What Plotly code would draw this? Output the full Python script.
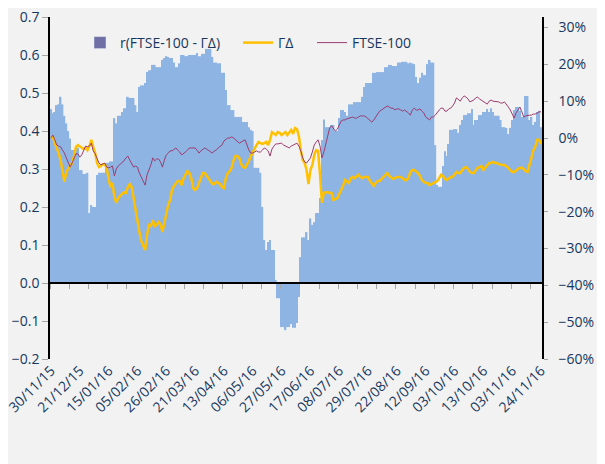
import plotly.graph_objects as go

# x-axis labels, one every 15 trading days
dates = ["30/11/15", "21/12/15", "15/01/16", "05/02/16", "26/02/16", "21/03/16",
         "13/04/16", "06/05/16", "27/05/16", "17/06/16", "08/07/16", "29/07/16",
         "22/08/16", "12/09/16", "03/10/16", "13/10/16", "03/11/16", "24/11/16"]

# rolling correlation r(FTSE-100 - GammaDelta), left axis
corr = [0.458, 0.447, 0.45, 0.468, 0.47, 0.49, 0.47, 0.44, 0.42, 0.40,
        0.38, 0.35, 0.35, 0.356, 0.356, 0.297, 0.297, 0.287, 0.287, 0.29,
        0.184, 0.205, 0.2, 0.2, 0.284, 0.29, 0.29, 0.29, 0.29, 0.316,
        0.316, 0.32, 0.32, 0.434, 0.42, 0.44, 0.44, 0.45, 0.46, 0.46,
        0.49, 0.487, 0.487, 0.487, 0.468, 0.45, 0.516, 0.52, 0.52, 0.526,
        0.555, 0.56, 0.56, 0.574, 0.574, 0.568, 0.568, 0.568, 0.587, 0.592,
        0.597, 0.595, 0.592, 0.592, 0.58, 0.568, 0.568, 0.578, 0.6, 0.6,
        0.597, 0.597, 0.6, 0.6, 0.6, 0.6, 0.605, 0.597, 0.597, 0.603,
        0.603, 0.616, 0.616, 0.616, 0.595, 0.58, 0.58, 0.578, 0.578, 0.553,
        0.553, 0.508, 0.468, 0.468, 0.455, 0.455, 0.437, 0.437, 0.437, 0.437,
        0.424, 0.424, 0.424, 0.41, 0.403, 0.40, 0.303, 0.303, 0.303, 0.29,
        0.2, 0.113, 0.087, 0.108, 0.113, 0.087, 0.087, 0.008, -0.04, -0.04,
        -0.116, -0.116, -0.124, -0.116, -0.116, -0.108, -0.118, -0.118, -0.105, -0.037,
        0.068, 0.12, 0.12, 0.134, 0.113, 0.17, 0.153, 0.16, 0.184, 0.184,
        0.224, 0.376, 0.43, 0.41, 0.41, 0.41, 0.416, 0.416, 0.40, 0.40,
        0.434, 0.455, 0.455, 0.45, 0.44, 0.47, 0.47, 0.47, 0.476, 0.476,
        0.476, 0.476, 0.49, 0.516, 0.526, 0.526, 0.526, 0.526, 0.553, 0.553,
        0.555, 0.555, 0.555, 0.555, 0.568, 0.568, 0.574, 0.574, 0.571, 0.571,
        0.571, 0.58, 0.58, 0.582, 0.582, 0.582, 0.578, 0.58, 0.578, 0.576,
        0.542, 0.526, 0.54, 0.553, 0.547, 0.547, 0.576, 0.587, 0.58, 0.58,
        0.363, 0.258, 0.253, 0.253, 0.308, 0.347, 0.334, 0.366, 0.403, 0.403,
        0.405, 0.405, 0.395, 0.416, 0.429, 0.442, 0.442, 0.447, 0.447, 0.458,
        0.416, 0.429, 0.429, 0.442, 0.442, 0.45, 0.45, 0.458, 0.45, 0.46,
        0.45, 0.44, 0.44, 0.44, 0.429, 0.41, 0.41, 0.408, 0.392, 0.408,
        0.429, 0.455, 0.463, 0.463, 0.453, 0.437, 0.437, 0.492, 0.492, 0.429,
        0.437, 0.416, 0.424, 0.45, 0.453, 0.41]

# GammaDelta, % (right axis)
gamma_delta = [0.0, 0.3, -1.4, -2.7, -4.1, -6.0, -9.2, -11.9, -9.2, -8.4,
               -7.9, -6.8, -4.9, -2.4, -1.9, -2.2, -2.7, -3.0, -2.7, -3.3,
               -2.2, -0.5, -2.4, -4.1, -6.8, -7.9, -7.6, -7.1, -7.1, -8.1,
               -11.1, -13.3, -12.2, -16.0, -17.6, -16.3, -15.7, -15.2, -14.7, -14.9,
               -13.3, -12.5, -13.3, -16.3, -19.8, -22.3, -25.5, -28.0, -29.3, -30.4,
               -26.3, -23.6, -23.9, -22.3, -23.9, -23.6, -22.8, -23.4, -25.5, -22.8,
               -20.1, -18.2, -16.8, -14.1, -13.0, -12.2, -11.7, -11.7, -12.8, -10.9,
               -9.8, -9.0, -9.5, -10.9, -13.6, -14.1, -13.6, -12.2, -10.9, -9.5,
               -9.5, -10.3, -10.9, -11.7, -12.5, -12.5, -11.9, -12.2, -12.5, -13.3,
               -13.6, -10.9, -9.5, -9.0, -8.1, -6.0, -4.9, -4.9, -5.4, -7.1,
               -7.9, -8.1, -7.3, -6.2, -4.9, -3.8, -2.7, -1.9, -1.1, -1.4,
               -1.6, -1.4, -1.1, -1.9, -0.5, 1.6, 1.1, 0.8, 1.6, 1.4,
               0.8, 1.1, 1.6, 0.8, 1.4, 2.2, 1.1, 2.7, 2.4, 0.5,
               -3.3, -6.0, -6.8, -8.7, -12.5, -8.7, -7.3, -4.6, -3.3, -3.5,
               -10.0, -17.6, -14.9, -14.7, -14.7, -14.9, -14.9, -16.8, -16.6, -16.3,
               -15.2, -14.1, -13.0, -11.4, -11.9, -12.2, -10.9, -10.6, -10.9, -10.3,
               -10.0, -10.6, -10.9, -10.6, -10.6, -10.6, -11.7, -12.5, -13.0, -12.2,
               -11.7, -11.7, -11.1, -10.6, -10.0, -9.5, -10.3, -10.6, -11.1, -10.9,
               -10.6, -10.6, -10.6, -10.9, -11.4, -11.4, -10.9, -9.2, -8.7, -8.7,
               -9.2, -9.5, -10.3, -11.4, -11.9, -12.2, -12.2, -12.8, -12.5, -12.2,
               -11.9, -11.7, -10.9, -10.0, -10.3, -11.1, -11.4, -11.1, -10.6, -10.6,
               -10.0, -9.2, -9.5, -9.5, -8.7, -8.1, -7.9, -8.4, -9.2, -9.5,
               -9.5, -8.7, -8.1, -7.9, -7.6, -8.7, -8.1, -7.3, -6.8, -6.8,
               -6.5, -6.8, -6.8, -7.1, -7.3, -7.3, -7.3, -7.6, -8.1, -8.7,
               -9.2, -9.2, -8.7, -8.4, -8.1, -8.1, -8.4, -9.0, -9.2, -7.6,
               -5.4, -3.3, -2.4, -0.5, -0.5, -1.6]

# FTSE-100 change since 30/11/15, % (right axis)
ftse = [0.0, 0.8, -0.5, -1.9, -2.2, -2.4, -3.3, -4.1, -5.4, -6.8,
        -7.9, -6.8, -5.4, -4.3, -4.3, -5.2, -4.6, -3.3, -2.2, -2.4,
        -2.2, -1.4, -3.5, -4.3, -5.4, -6.8, -7.3, -7.1, -6.8, -7.9,
        -8.1, -7.9, -7.6, -10.3, -8.4, -7.6, -7.1, -6.8, -6.2, -5.4,
        -4.9, -6.0, -7.1, -7.9, -7.6, -7.9, -9.5, -10.6, -11.4, -12.8,
        -10.0, -8.7, -7.3, -5.4, -6.2, -5.7, -5.7, -6.5, -7.9, -6.0,
        -4.6, -4.1, -3.5, -3.5, -3.0, -2.7, -3.3, -3.8, -4.6, -4.3,
        -3.8, -3.3, -2.7, -2.7, -2.7, -2.7, -3.3, -4.1, -3.5, -3.0,
        -2.7, -3.0, -3.3, -3.8, -4.1, -3.5, -3.3, -2.7, -2.4, -1.9,
        -0.8, -0.3, 0.0, 0.0, 0.3, 0.0, -0.5, -1.1, -1.4, -1.1,
        -0.8, -0.5, -1.9, -3.3, -4.1, -4.1, -3.8, -3.5, -3.8, -3.8,
        -3.3, -2.7, -3.0, -3.5, -4.9, -3.0, -2.2, -1.6, -1.6, -1.4,
        -1.4, -1.9, -2.2, -2.4, -2.7, -2.2, -1.9, -1.6, -1.4, -2.2,
        -3.5, -5.4, -6.5, -6.8, -6.2, -5.4, -3.8, -1.9, -1.1, -0.5,
        -2.2, -5.4, -3.8, -1.4, 1.1, 2.7, 3.3, 2.7, 1.9, 2.4,
        3.5, 4.6, 4.9, 4.9, 5.2, 5.4, 5.7, 5.7, 5.4, 5.4,
        5.7, 6.0, 6.0, 6.0, 5.7, 5.2, 4.6, 4.3, 4.9, 5.7,
        6.8, 7.3, 7.6, 7.9, 8.4, 8.7, 8.4, 8.1, 8.1, 7.6,
        7.9, 7.9, 7.6, 7.3, 7.6, 7.3, 6.8, 6.2, 7.6, 8.1,
        7.6, 7.6, 7.9, 7.3, 6.8, 5.7, 5.2, 4.9, 5.7, 5.7,
        6.2, 7.1, 7.6, 8.1, 8.1, 7.3, 7.3, 7.9, 8.1, 8.7,
        9.5, 10.9, 10.3, 10.0, 10.9, 11.4, 11.1, 10.6, 9.8, 10.0,
        10.3, 10.9, 11.1, 10.6, 10.3, 9.8, 9.5, 9.2, 10.0, 10.3,
        10.0, 10.0, 9.8, 9.8, 9.5, 9.5, 9.8, 9.2, 8.4, 7.6,
        6.5, 5.4, 6.8, 7.6, 8.4, 7.1, 5.7, 6.0, 6.2, 6.2,
        6.2, 6.5, 6.5, 6.8, 7.1, 7.1]

# the page body adds an 8px margin, so the figure is drawn 8px in from top/left
OFF = 8
W, H = 605 - OFF, 464 - OFF
L, R, T, B = 42, 63, 9, 105
PW, PH = W - L - R, H - T - B
LEFT_RANGE = [-0.2, 0.7]
RIGHT_RANGE = [-60, 32.85]
TEXT = "#17375E"
FONT = "Open Sans"


def px_x(px):
    # screen pixel -> paper x
    return (px - OFF - L) / PW


def px_y(py):
    # screen pixel -> paper y
    return (H - B - (py - OFF)) / PH


n = len(corr)
fig = go.Figure()

fig.add_trace(go.Bar(x=list(range(n)), y=corr, marker=dict(color="#8EB4E3", line=dict(width=0)),
                     showlegend=False, hoverinfo="skip"))
# legend entry for the bars (darker swatch as in the original)
fig.add_trace(go.Bar(x=[None], y=[None], name="r(FTSE-100 - ΓΔ)", marker_color="#6F6FA6",
                     legend="legend"))
fig.add_trace(go.Scatter(x=list(range(len(gamma_delta))), y=gamma_delta, name="ΓΔ", mode="lines",
                         line=dict(color="#FFC000", width=2.5), xaxis="x2", yaxis="y2",
                         legend="legend2"))
fig.add_trace(go.Scatter(x=list(range(len(ftse))), y=ftse, name="FTSE-100", mode="lines",
                         line=dict(color="#9B3D6E", width=1), xaxis="x2", yaxis="y2",
                         legend="legend3"))

tickfont = dict(family=FONT, size=14, color=TEXT)
legfont = dict(family=FONT, size=14, color=TEXT)
zero_pos = (0 - LEFT_RANGE[0]) / (LEFT_RANGE[1] - LEFT_RANGE[0])


def leg(px):
    return dict(x=px_x(px), y=px_y(43), xanchor="left", yanchor="middle",
                bgcolor="rgba(0,0,0,0)", font=legfont, orientation="h")


fig.update_layout(
    width=W, height=H,
    margin=dict(l=L, r=R, t=T, b=B, autoexpand=False),
    paper_bgcolor="#F2F2F2", plot_bgcolor="#F2F2F2",
    barmode="overlay", bargap=0.12,
    font=dict(family=FONT, color=TEXT),
    legend=leg(80), legend2=leg(238), legend3=leg(312),
    xaxis=dict(range=[-0.5, n - 0.5], tickmode="array", tickvals=list(range(0, n, 15)),
               ticktext=dates, tickangle=-45, tickfont=tickfont, showline=False,
               ticks="", showgrid=False, zeroline=False, ticklabeloverflow="allow"),
    xaxis2=dict(range=[-0.5, n - 0.5], overlaying="x", anchor="free", position=zero_pos,
                showticklabels=False, ticks="outside", ticklen=5, tickcolor="#A6A6A6",
                tick0=-0.5, dtick=10, showline=True, linecolor="black", linewidth=1.5,
                showgrid=False, zeroline=False),
    yaxis=dict(range=LEFT_RANGE, dtick=0.1, tick0=0, tickformat=".1f", tickfont=tickfont,
               showline=True, linecolor="black", linewidth=1.5, ticks="outside", ticklen=6,
               tickcolor="#A6A6A6", showgrid=False, zeroline=False, ticklabeloverflow="allow"),
    yaxis2=dict(range=RIGHT_RANGE, dtick=10, tick0=0, ticksuffix="%", tickfont=tickfont,
                overlaying="y", side="right", anchor="x2", showline=True, linecolor="black",
                linewidth=1.5, ticks="outside", ticklen=4, tickcolor="#A6A6A6",
                ticklabelstandoff=8, showgrid=False, zeroline=False, ticklabeloverflow="allow"),
)

fig.write_html("out.html")
